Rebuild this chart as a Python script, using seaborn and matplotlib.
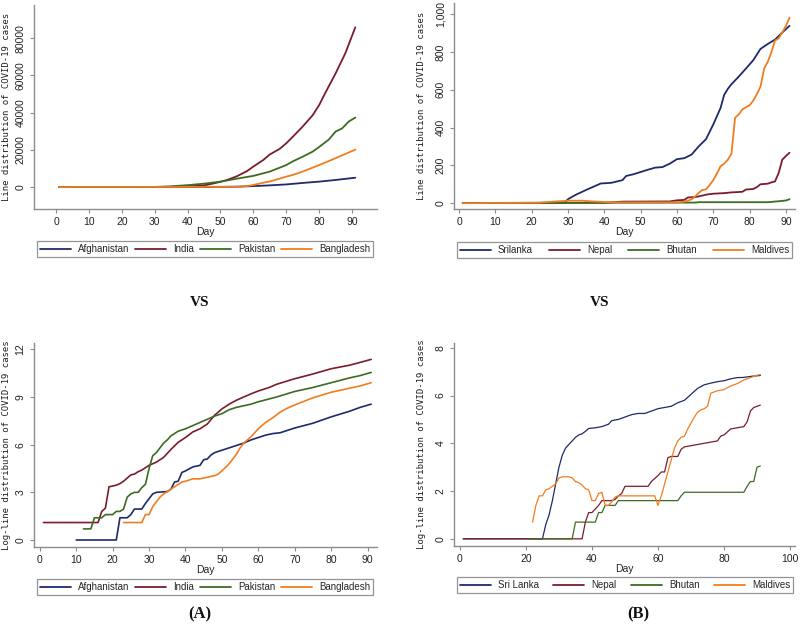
import pandas as pd
import matplotlib
matplotlib.use("Agg")
import matplotlib.pyplot as plt
import seaborn as sns

# ---- Panel A, linear cases ----
afg_days = [1, 40, 50, 55, 60, 65, 70, 75, 80, 85, 88, 91]
afg_cases = [0, 0, 100, 200, 500, 900, 1400, 2200, 2900, 3800, 4400, 5000]
ind_days = [1, 30, 35, 40, 44, 46, 48, 50, 52, 55, 58, 60, 63, 65, 68, 70, 72, 75, 78, 80, 82, 85, 88, 91]
ind_cases = [0, 30, 100, 400, 700, 1200, 2000, 2800, 3800, 5800, 8500, 11000, 14500, 17500, 20500,
             23500, 27000, 32500, 38500, 44000, 51000, 61000, 72000, 85800]
pak_days = [1, 30, 35, 40, 45, 50, 55, 60, 65, 70, 72, 75, 78, 80, 83, 85, 87, 89, 91]
pak_cases = [0, 50, 400, 1000, 1800, 2900, 4500, 6000, 8300, 11800, 13800, 16300, 19000, 21500,
             25600, 29800, 31500, 35200, 37300]
bgd_days = [1, 55, 58, 60, 63, 65, 68, 70, 72, 75, 78, 80, 83, 85, 88, 91]
bgd_cases = [0, 100, 500, 1100, 2300, 3000, 4500, 5600, 6500, 8300, 10400, 11800, 14000, 15500, 17800, 20100]

# ---- Panel B, linear cases ----
srl_days = [1, 29, 30, 32, 35, 37, 39, 42, 45, 46, 48, 50, 52, 54, 56, 58, 60, 62, 64, 66, 68, 70,
            72, 73, 74, 75, 77, 79, 81, 83, 85, 87, 89, 91]
srl_cases = [1, 2, 21, 43, 70, 87, 104, 108, 122, 144, 153, 165, 177, 188, 191, 209, 233, 238, 257,
             301, 339, 417, 504, 574, 605, 630, 670, 713, 757, 817, 843, 866, 904, 939]
npl_days = [1, 40, 45, 58, 60, 62, 63, 65, 67, 68, 70, 73, 75, 78, 79, 81, 82, 83, 85, 86, 87, 88, 89, 90, 91]
npl_cases = [1, 2, 8, 9, 15, 17, 30, 32, 40, 45, 50, 53, 57, 60, 72, 75, 85, 100, 103, 110, 115, 160,
             230, 250, 267]
btn_days = [1, 21, 65, 66, 85, 88, 90, 91]
btn_cases = [0, 1, 3, 5, 5, 10, 14, 21]
mdv_days = [1, 22, 23, 26, 30, 34, 36, 38, 40, 44, 60, 62, 63, 64, 65, 66, 67, 68, 69, 70, 71, 72,
            73, 74, 75, 76, 77, 78, 79, 80, 81, 82, 83, 84, 85, 86, 87, 88, 89, 90, 91]
mdv_cases = [0, 2, 4, 8, 13, 13, 10, 8, 6, 4, 4, 8, 13, 20, 35, 55, 70, 73, 96, 122, 157, 195, 209,
             230, 261, 452, 470, 496, 508, 518, 543, 577, 617, 713, 748, 800, 861, 873, 904, 939, 983]

# ---- Panel A, log cases ----
afg_log_days = [10, 21, 22, 24, 25, 26, 28, 29, 30, 31, 32, 35, 36, 37, 38, 39, 40, 42, 44, 45, 46,
                47, 48, 50, 52, 54, 56, 58, 60, 62, 64, 66, 68, 70, 75, 80, 85, 88, 91]
afg_log = [0, 0, 1.4, 1.4, 1.6, 1.95, 1.95, 2.3, 2.6, 2.9, 3.0, 3.05, 3.2, 3.65, 3.7, 4.25, 4.35,
           4.6, 4.7, 5.05, 5.1, 5.35, 5.5, 5.65, 5.8, 5.95, 6.1, 6.3, 6.45, 6.6, 6.7, 6.75, 6.9,
           7.05, 7.35, 7.75, 8.1, 8.35, 8.55]
ind_log_days = [1, 16, 17, 18, 19, 20, 21, 22, 23, 24, 25, 26, 27, 28, 29, 30, 32, 34, 36, 38, 40,
                42, 44, 46, 48, 50, 52, 54, 56, 58, 60, 63, 65, 70, 75, 80, 85, 88, 91]
ind_log = [1.1, 1.1, 1.8, 2.0, 3.35, 3.4, 3.45, 3.55, 3.7, 3.9, 4.1, 4.15, 4.3, 4.4, 4.55, 4.7,
           4.9, 5.2, 5.7, 6.15, 6.45, 6.8, 7.0, 7.3, 7.85, 8.25, 8.55, 8.8, 9.0, 9.2, 9.38, 9.6,
           9.8, 10.15, 10.45, 10.78, 11.0, 11.18, 11.37]
pak_log_days = [12, 14, 15, 17, 18, 20, 21, 22, 23, 24, 25, 26, 27, 28, 29, 30, 31, 32, 33, 34, 35,
                36, 37, 38, 40, 42, 44, 46, 48, 50, 52, 54, 56, 58, 60, 65, 70, 75, 80, 85, 88, 91]
pak_log = [0.7, 0.7, 1.4, 1.4, 1.6, 1.6, 1.8, 1.8, 1.95, 2.7, 2.9, 3.0, 3.0, 3.3, 3.5, 4.5, 5.3,
           5.5, 5.8, 6.1, 6.3, 6.55, 6.7, 6.85, 7.0, 7.2, 7.4, 7.6, 7.8, 7.95, 8.2, 8.35, 8.45,
           8.55, 8.7, 9.0, 9.35, 9.6, 9.9, 10.2, 10.35, 10.55]
bgd_log_days = [23, 28, 29, 30, 31, 32, 33, 34, 35, 36, 37, 38, 39, 40, 42, 44, 46, 48, 49, 50, 52,
                54, 55, 56, 58, 60, 62, 64, 66, 68, 70, 75, 80, 85, 88, 91]
bgd_log = [1.1, 1.1, 1.6, 1.6, 2.1, 2.4, 2.7, 2.9, 3.05, 3.2, 3.35, 3.5, 3.65, 3.7, 3.85, 3.85,
           3.95, 4.05, 4.15, 4.35, 4.8, 5.4, 5.8, 6.1, 6.5, 7.0, 7.4, 7.7, 8.05, 8.3, 8.5, 8.95,
           9.3, 9.55, 9.7, 9.9]

# ---- Panel B, log cases ----
srl_log_days = [1, 25, 26, 27, 28, 29, 30, 31, 32, 33, 34, 35, 36, 37, 38, 39, 41, 43, 45, 46, 48,
                50, 52, 54, 56, 58, 60, 62, 64, 66, 68, 70, 72, 74, 76, 78, 80, 82, 84, 86, 88, 91]
srl_log = [0, 0, 0.6, 1.0, 1.6, 2.3, 3.0, 3.5, 3.8, 3.95, 4.1, 4.25, 4.35, 4.4, 4.5, 4.62, 4.65,
           4.7, 4.8, 4.95, 5.0, 5.1, 5.2, 5.25, 5.25, 5.35, 5.45, 5.5, 5.55, 5.7, 5.8, 6.05, 6.3,
           6.45, 6.52, 6.58, 6.62, 6.7, 6.75, 6.76, 6.8, 6.84]
npl_log_days = [1, 37, 38, 39, 40, 41, 42, 43, 46, 47, 48, 49, 50, 57, 58, 60, 61, 62, 63, 64, 66,
                67, 68, 70, 72, 74, 76, 78, 79, 80, 82, 84, 86, 87, 88, 89, 90, 91]
npl_log = [0, 0, 0.7, 1.1, 1.1, 1.25, 1.4, 1.6, 1.6, 1.65, 1.8, 1.9, 2.2, 2.2, 2.4, 2.65, 2.8, 2.8,
           3.4, 3.45, 3.45, 3.75, 3.85, 3.9, 3.95, 4.0, 4.05, 4.1, 4.3, 4.35, 4.6, 4.65, 4.7, 4.9,
           5.35, 5.5, 5.55, 5.6]
btn_log_days = [21, 34, 35, 41, 42, 43, 44, 47, 48, 66, 67, 68, 86, 87, 88, 89, 90, 91]
btn_log = [0, 0, 0.7, 0.7, 1.1, 1.1, 1.4, 1.4, 1.6, 1.6, 1.8, 1.95, 1.95, 2.2, 2.4, 2.4, 3.0, 3.05]
mdv_log_days = [22, 23, 24, 25, 26, 27, 28, 29, 30, 31, 33, 34, 35, 36, 37, 38, 39, 40, 41, 42, 43,
                44, 45, 46, 47, 48, 59, 60, 61, 62, 63, 64, 65, 66, 67, 68, 69, 70, 71, 72, 73, 74,
                75, 76, 77, 78, 80, 82, 84, 86, 88, 90, 91]
mdv_log = [0.7, 1.4, 1.8, 1.8, 2.05, 2.1, 2.2, 2.3, 2.55, 2.6, 2.6, 2.55, 2.4, 2.35, 2.25, 2.1,
           2.05, 1.6, 1.6, 1.9, 1.95, 1.4, 1.4, 1.55, 1.75, 1.8, 1.8, 1.4, 1.8, 2.3, 2.8, 3.3, 3.8,
           4.1, 4.25, 4.3, 4.6, 4.85, 5.1, 5.3, 5.4, 5.45, 5.55, 6.1, 6.15, 6.2, 6.25, 6.4, 6.5,
           6.65, 6.75, 6.85, 6.88]

names_a = ["Afghanistan", "India", "Pakistan", "Bangladesh"]
names_b = ["Srilanka", "Nepal", "Bhutan", "Maldives"]
names_b_log = ["Sri Lanka", "Nepal", "Bhutan", "Maldives"]
colors = ["#1f2a6b", "#7a1c2c", "#3d6b22", "#f07d20"]

ylab_lin = "Line distribution of COVID-19 cases"
ylab_log = "Log-line distribution of COVID-19 cases"


def frame(names, days_list, vals_list):
    parts = []
    for n, d, v in zip(names, days_list, vals_list):
        parts.append(pd.DataFrame({"Day": d, "value": v, "country": n}))
    return pd.concat(parts, ignore_index=True)


sns.set_style("white")
plt.rcParams["font.family"] = ["Liberation Sans", "DejaVu Sans"]

fig = plt.figure(figsize=(8, 6.26), dpi=100)
W, H = 800, 626


def panel(box, df, names, lw, legend_box, ylabel, lab_x, xlim, ylim, xticks, yticks, yticklabels):
    # box and legend_box are pixel edges (left, top, right, bottom)
    x0, y0, x1, y1 = box
    ax = fig.add_axes([x0 / W, 1 - y1 / H, (x1 - x0) / W, (y1 - y0) / H])
    sns.lineplot(data=df, x="Day", y="value", hue="country", hue_order=names,
                 palette=colors, linewidth=lw, ax=ax, legend=False, sort=False,
                 estimator=None)
    ax.set_xlim(*xlim)
    ax.set_ylim(*ylim)
    ax.set_xticks(xticks)
    ax.set_yticks(yticks)
    ax.set_yticklabels(yticklabels, rotation=90, va="center")
    for s in ["top", "right"]:
        ax.spines[s].set_visible(False)
    for s in ["left", "bottom"]:
        ax.spines[s].set_color("#8c8c8c")
        ax.spines[s].set_linewidth(1.0)
    ax.tick_params(axis="both", direction="out", length=3, width=0.8, color="#8c8c8c",
                   labelsize=7.5, labelcolor="#222222", pad=3, left=True, bottom=True)
    ax.set_xlabel("Day", fontsize=7.5, labelpad=0, color="#222222")
    ax.set_ylabel("")

    handles = [plt.Line2D([], [], color=c, lw=1.3) for c in colors]
    lx0, ly0, lx1, ly1 = legend_box
    leg = fig.legend(handles, names, loc="lower left", ncol=4, mode="expand",
                     bbox_to_anchor=(lx0 / W, 1 - ly1 / H, (lx1 - lx0) / W, (ly1 - ly0) / H),
                     bbox_transform=fig.transFigure, frameon=True, fancybox=False,
                     fontsize=7, handlelength=3.2, handletextpad=0.7,
                     borderpad=0.3, borderaxespad=0, columnspacing=0.5)
    leg.get_frame().set_edgecolor("#7a7a7a")
    leg.get_frame().set_linewidth(0.9)

    fig.text(lab_x / W, 1 - (y0 + y1) / 2 / H, ylabel, rotation=90, ha="center", va="center",
             fontsize=6.5, family="DejaVu Sans Mono", color="#222222")
    return ax


panel((34, 5, 377, 209),
      frame(names_a, [afg_days, ind_days, pak_days, bgd_days],
            [afg_cases, ind_cases, pak_cases, bgd_cases]),
      names_a, 1.3, (37, 240, 373, 257), ylab_lin, 7,
      (-6.7, 97.6), (-11800, 97800), range(0, 91, 10),
      [0, 20000, 40000, 60000, 80000], ["0", "20000", "40000", "60000", "80000"])

panel((454, 3, 795, 209),
      frame(names_b, [srl_days, npl_days, btn_days, mdv_days],
            [srl_cases, npl_cases, btn_cases, mdv_cases]),
      names_b, 1.3, (457, 240, 792, 258), ylab_lin, 421,
      (-1.4, 92.5), (-31, 1060), range(0, 91, 10),
      [0, 200, 400, 600, 800, 1000], ["0", "200", "400", "600", "800", "1,000"])

panel((34, 343, 377, 547),
      frame(names_a, [afg_log_days, ind_log_days, pak_log_days, bgd_log_days],
            [afg_log, ind_log, pak_log, bgd_log]),
      names_a, 1.2, (37, 577, 373, 595), ylab_log, 7,
      (-1.6, 92.6), (-0.44, 12.4), range(0, 91, 10),
      [0, 3, 6, 9, 12], ["0", "3", "6", "9", "12"])

panel((454, 343, 795, 546),
      frame(names_b_log, [srl_log_days, npl_log_days, btn_log_days, mdv_log_days],
            [srl_log, npl_log, btn_log, mdv_log]),
      names_b_log, 0.9, (457, 576, 793, 593), ylab_log, 421,
      (-1.8, 101.5), (-0.3, 8.2), range(0, 101, 20),
      [0, 2, 4, 6, 8], ["0", "2", "4", "6", "8"])

serif = dict(family="Liberation Serif", fontweight="bold", ha="center", va="center",
             color="#111111")
fig.text(200 / W, 1 - 303 / H, "VS", fontsize=11, **serif)
fig.text(600 / W, 1 - 303 / H, "VS", fontsize=11, **serif)
fig.text(200 / W, 1 - 614 / H, "(A)", fontsize=12, **serif)
fig.text(638 / W, 1 - 614 / H, "(B)", fontsize=12, **serif)

fig.savefig("out.png", dpi=100, facecolor="white")
